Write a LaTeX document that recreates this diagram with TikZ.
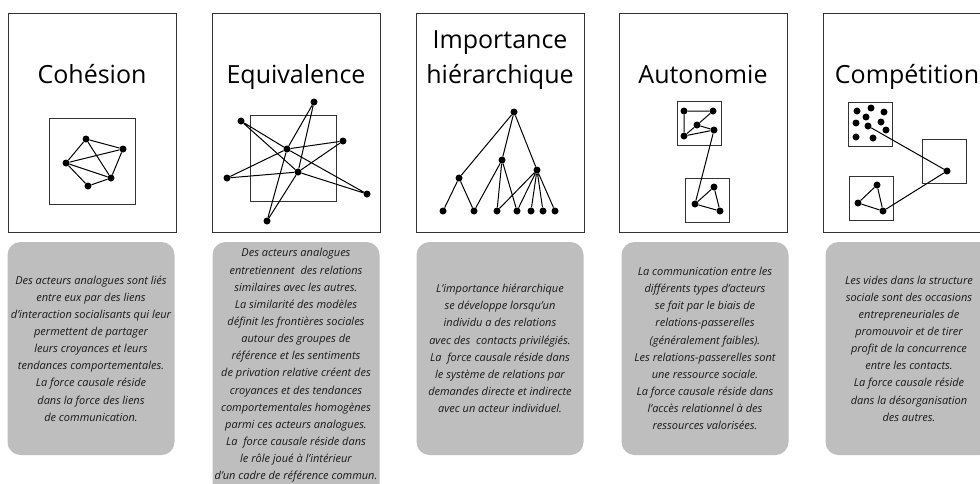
\documentclass[tikz,border=0pt]{standalone}
\usepackage{fontspec}
\setmainfont{Open Sans}
\usetikzlibrary{positioning}
\definecolor{descgray}{RGB}{190,190,190}

\begin{document}
\begin{tikzpicture}[x=1pt, y=-1pt,
    frame/.style={rectangle, draw=black!80, line width=0.9pt, minimum width=168pt, minimum height=219pt, inner sep=0pt},
    title/.style={anchor=base, font=\fontsize{25}{30}\selectfont, text=black},
    desc/.style={rectangle, rounded corners=13pt, fill=descgray, minimum width=167pt, minimum height=213pt, inner sep=0pt},
    desctext/.style={align=center, inner sep=0pt, font=\itshape\fontsize{11}{17.15}\selectfont, text=black!90},
    bigsq/.style={rectangle, draw=black!80, line width=0.8pt, minimum size=86pt, inner sep=0pt},
    smallsq/.style={rectangle, draw=black!80, line width=0.8pt, minimum size=44pt, inner sep=0pt},
    dot/.style={circle, fill=black, minimum size=7pt, inner sep=0pt},
    link/.style={line width=1pt, black}
]
    \path[use as bounding box, fill=white] (0,0) rectangle (980,483);

    % the five frames and their titles
    \node[frame] (cohframe) at (92,122.5) {};
    \node[frame] (equframe) at (296,122.5) {};
    \node[frame] (impframe) at (500,122.5) {};
    \node[frame] (autframe) at (703,122.5) {};
    \node[frame] (comframe) at (907,122.5) {};

    \node[title] (cohtitle) at (92,83) {Cohésion};
    \node[title] (equtitle) at (296,83) {Equivalence};
    \node[title] (imptitle) at (500,48) {Importance};
    \node[title] (hietitle) at (500,83) {hiérarchique};
    \node[title] (auttitle) at (703,83) {Autonomie};
    \node[title] (comtitle) at (907,83) {Compétition};

    % Cohesion
    \node[bigsq] (cohsq) at (92,161) {};
    \node[dot] (ca) at (86,139) {};
    \node[dot] (cb) at (123,149) {};
    \node[dot] (cc) at (66,163) {};
    \node[dot] (cd) at (111,178) {};
    \node[dot] (ce) at (88,186) {};
    \draw[link] (ca) -- (cb) -- (cd) -- (ce) -- (cc) -- (ca) -- (cd) -- (cc) -- (cb);

    % Equivalence
    \node[bigsq] (equsq) at (293,158) {};
    \node[dot] (e1) at (314,102) {};
    \node[dot] (e2) at (241,121) {};
    \node[dot] (e3) at (343,141) {};
    \node[dot] (e4) at (287,149) {};
    \node[dot] (e5) at (298,172) {};
    \node[dot] (e6) at (227,178) {};
    \node[dot] (e7) at (367,194) {};
    \node[dot] (e8) at (267,221) {};
    \draw[link] (e1) -- (e4) -- (e8) -- (e5) -- (e1);
    \draw[link] (e2) -- (e4) -- (e7) -- (e5) -- (e2);
    \draw[link] (e3) -- (e4) -- (e6) -- (e5) -- (e3);

    % Importance hierarchique
    \node[dot] (root) at (514,112) {};
    \node[dot] (hl) at (459,178) {};
    \node[dot] (hm) at (502,160) {};
    \node[dot] (hr) at (537,170) {};
    \node[dot] (lf1) at (443,211) {};
    \node[dot] (lf2) at (474,211) {};
    \node[dot] (lf3) at (497,211) {};
    \node[dot] (lf4) at (517,211) {};
    \node[dot] (lf5) at (531,211) {};
    \node[dot] (lf6) at (543,211) {};
    \node[dot] (lf7) at (555,211) {};
    \draw[link] (root) -- (hl) (root) -- (hm) (root) -- (hr);
    \draw[link] (hl) -- (lf1) (hl) -- (lf2);
    \draw[link] (hm) -- (lf2) (hm) -- (lf3) (hm) -- (lf4);
    \draw[link] (hr) -- (lf3) (hr) -- (lf4) (hr) -- (lf5) (hr) -- (lf6) (hr) -- (lf7);

    % Autonomie
    \node[smallsq] (autup) at (699,123) {};
    \node[smallsq] (autdown) at (707.5,200) {};
    \node[dot] (aa) at (684,111) {};
    \node[dot] (ab) at (713,111) {};
    \node[dot] (ac) at (697,125) {};
    \node[dot] (ad) at (714,130) {};
    \node[dot] (ae) at (684,136) {};
    \node[dot] (af) at (714,187) {};
    \node[dot] (ag) at (695,204) {};
    \node[dot] (ah) at (720,211) {};
    \draw[link] (ae) -- (aa) -- (ab) -- (ac) -- (ae) -- (ad) -- (ac);
    \draw[link] (ad) -- (ag);
    \draw[link] (ag) -- (af) -- (ah) -- (ag);

    % Competition
    \node[smallsq] (comup) at (870,124) {};
    \node[smallsq] (comright) at (944,161) {};
    \node[smallsq] (comdown) at (871,198.5) {};
    \node[dot] (k1) at (857,111) {};
    \node[dot] (k2) at (871,108) {};
    \node[dot] (k3) at (884,112) {};
    \node[dot] (k4) at (866,117) {};
    \node[dot] (k5) at (856,123) {};
    \node[dot] (k6) at (881,122) {};
    \node[dot] (k7) at (868,126) {};
    \node[dot] (k8) at (886,130) {};
    \node[dot] (k9) at (856,137) {};
    \node[dot] (k10) at (873,138) {};
    \node[dot] (hub) at (947,171) {};
    \node[dot] (t1) at (877,185) {};
    \node[dot] (t2) at (858,203) {};
    \node[dot] (t3) at (883,211) {};
    \draw[link] (k7) -- (hub) -- (t3);
    \draw[link] (t1) -- (t2) -- (t3) -- (t1);

    % descriptions
    \node[desc] (cohbox) at (91,348.5) {};
    \node[desc] (equbox) at (296,371) [minimum height=258pt] {};
    \node[desc] (impbox) at (500,348.5) {};
    \node[desc] (autbox) at (705,348.5) {};
    \node[desc] (combox) at (909,348.5) {};

    \node[desctext] (cohdesc) at (cohbox) {Des acteurs analogues sont liés\\entre eux par des liens\\d’interaction socialisants qui leur\\permettent de partager\\leurs croyances et leurs\\tendances comportementales.\\La force causale réside\\dans la force des liens\\de communication.};
    \node[desctext] (equdesc) at (296,365.5) {Des acteurs analogues\\entretiennent \ des relations\\similaires avec les autres.\\La similarité des modèles\\définit les frontières sociales\\autour des groupes de\\référence et les sentiments\\de privation relative créent des\\croyances et des tendances\\comportementales homogènes\\parmi ces acteurs analogues.\\La \ force causale réside dans\\le rôle joué à l’intérieur\\d’un cadre de référence commun.};
    \node[desctext] (impdesc) at (impbox) {L’importance hiérarchique\\se développe lorsqu'un\\individu a des relations\\avec des \ contacts privilégiés.\\La \ force causale réside dans\\le système de relations par\\demandes directe et indirecte\\avec un acteur individuel.};
    \node[desctext] (autdesc) at (autbox) {La communication entre les\\différents types d'acteurs\\se fait par le biais de\\relations-passerelles\\(généralement faibles).\\Les relations-passerelles sont\\une ressource sociale.\\La force causale réside dans\\l'accès relationnel à des\\ressources valorisées.};
    \node[desctext] (comdesc) at (combox) {Les vides dans la structure\\sociale sont des occasions\\entrepreneuriales de\\promouvoir et de tirer\\profit de la concurrence\\entre les contacts.\\La force causale réside\\dans la désorganisation\\des autres.};
\end{tikzpicture}
\end{document}
